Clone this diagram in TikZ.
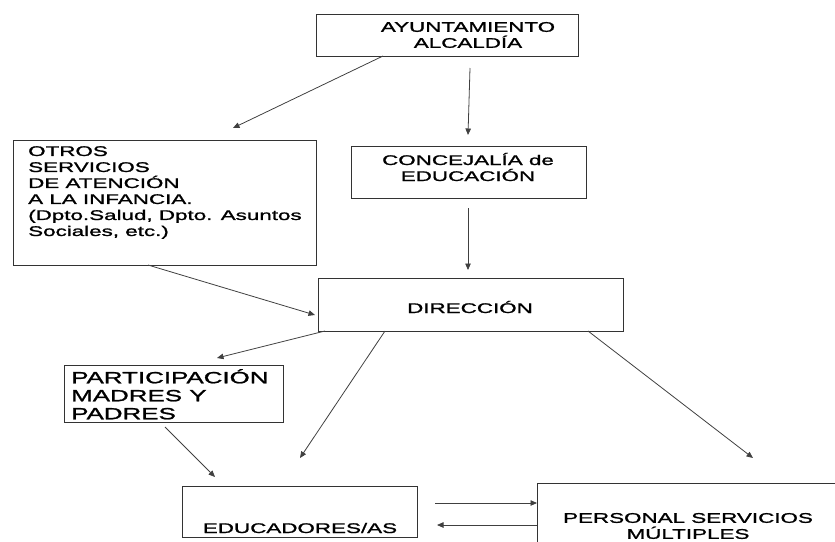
\documentclass[tikz,border=0pt]{standalone}
\usepackage{fontspec}
\setmainfont{Liberation Sans}[FakeStretch=1.6,FakeBold=1.3]
\usetikzlibrary{arrows.meta,calc}
\begin{document}
\begin{tikzpicture}[x=1pt,y=-1pt,
  box/.style={draw=black!80,line width=1pt,inner sep=0pt,outer sep=0pt,anchor=north west},
  txt/.style={font=\fontsize{14}{16}\selectfont,inner sep=0pt,align=center},
  bigtxt/.style={font=\fontsize{16.2}{18}\selectfont,inner sep=0pt,align=left},
  arr/.style={draw=black!75,line width=0.8pt,-{Triangle[length=6.5pt,width=5.5pt]}}]
\useasboundingbox (0,0) rectangle (835,541);
% boxes
\node[box,minimum width=262pt,minimum height=42pt] (ayto) at (316,14) {};
\node[box,minimum width=303pt,minimum height=125pt] (otros) at (13,140) {};
\node[box,minimum width=235pt,minimum height=52pt] (conc) at (351,146) {};
\node[box,minimum width=305pt,minimum height=53pt] (dir) at (318,278) {};
\node[box,minimum width=219pt,minimum height=57pt] (part) at (64,365) {};
\node[box,minimum width=235pt,minimum height=51pt] (edu) at (182,486) {};
\node[box,minimum width=310pt,minimum height=80pt] (pers) at (537,483) {};
% texts
\node[txt] (aytot) at (468,35) {AYUNTAMIENTO\\ALCALDÍA};
\node[txt,align=left,anchor=north west] (otrost) at (28,146) {OTROS\\SERVICIOS\\DE ATENCIÓN\\A LA INFANCIA.\\(Dpto.Salud, Dpto. Asuntos\\Sociales, etc.)};
\node[txt] (conct) at (468,167) {CONCEJALÍA de\\EDUCACIÓN};
\node[txt] (dirt) at (470,307) {DIRECCIÓN};
\node[bigtxt,anchor=north west] (partt) at (71,369) {PARTICIPACIÓN\\MADRES Y\\PADRES};
\node[txt] (edut) at (300,528) {EDUCADORES/AS};
\node[txt] (perst) at (688,526) {PERSONAL SERVICIOS\\MÚLTIPLES};
% connectors
\draw[arr] ($(ayto.south west)+(67,0)$) -- ($(otros.north west)+(220,-12)$);
\draw[arr] ($(ayto.south west)+(154,12)$) -- ($(conc.north west)+(117,-11)$);
\draw[arr] ($(conc.south west)+(117,10)$) -- ($(dir.north west)+(150,-8)$);
\draw[arr] ($(otros.south west)+(135,0)$) -- ($(dir.south west)+(-3,-16)$);
\draw[arr] ($(dir.south west)+(7,0)$) -- ($(part.north west)+(153,-7)$);
\draw[arr] ($(dir.south west)+(67,0)$) -- ($(edu.north west)+(118,-28)$);
\draw[arr] ($(part.south west)+(101,5)$) -- ($(edu.north west)+(33,-9)$);
\draw[arr] ($(dir.south west)+(270,0)$) -- ($(pers.north west)+(216,-25)$);
\draw[arr] ($(edu.north east)+(18,17)$) -- ($(pers.north west)+(0,20)$);
\draw[arr] ($(pers.north west)+(0,42)$) -- ($(edu.north east)+(20,39)$);
\end{tikzpicture}
\end{document}
